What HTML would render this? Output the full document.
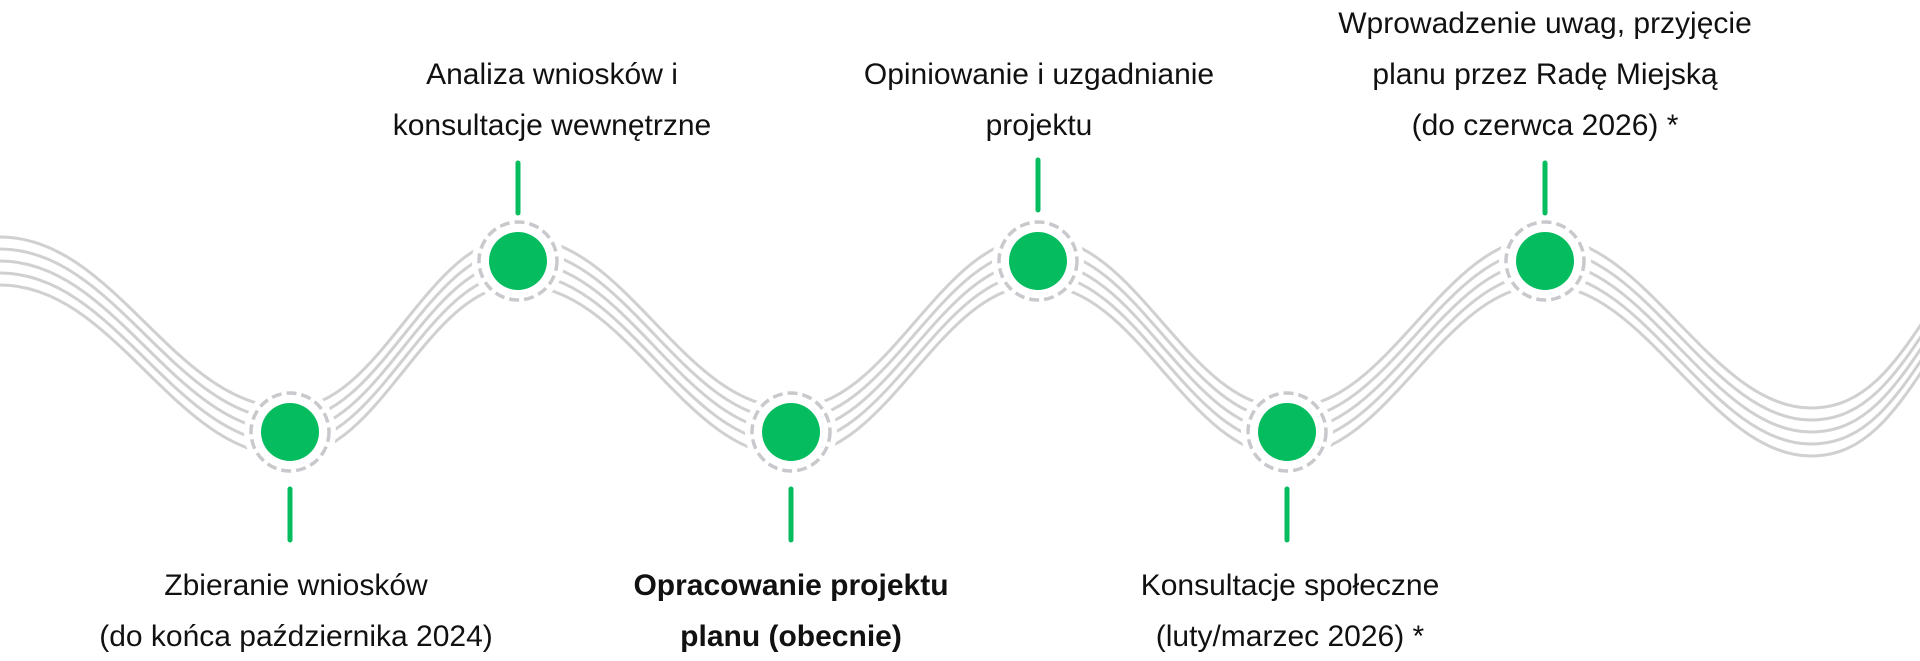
<!DOCTYPE html>
<html><head><meta charset="utf-8"><style>
html,body{margin:0;padding:0;background:#fff;}
body{width:1920px;height:661px;overflow:hidden;position:relative;}
svg{position:absolute;left:0;top:0;}
text{font-family:"Liberation Sans",sans-serif;font-size:30px;fill:#111;}
</style></head><body>
<svg width="1920" height="661" viewBox="0 0 1920 661">
<defs>
<path id="w" d="M-20,261 L0,261 C116,261 174,432 290,432 C381,432 427,261 518,261 C627,261 682,432 791,432 C890,432 939,261 1038,261 C1138,261 1187,432 1287,432 C1390,432 1442,261 1545,261 C1645,261 1711,432 1811,432 C1870,432 1900,380 1940,320" fill="none" stroke="#d0d0d0" stroke-width="3"/>
</defs>
<use href="#w" y="-24"/><use href="#w" y="-12"/><use href="#w"/><use href="#w" y="12"/><use href="#w" y="24"/>
<g>
<g transform="translate(290,432)"><circle r="46" fill="#fff"/><circle r="39" fill="none" stroke="#c9c9cd" stroke-width="3.5" stroke-dasharray="10 5"/><circle r="29" fill="#05bd5f"/></g>
<g transform="translate(518,261)"><circle r="46" fill="#fff"/><circle r="39" fill="none" stroke="#c9c9cd" stroke-width="3.5" stroke-dasharray="10 5"/><circle r="29" fill="#05bd5f"/></g>
<g transform="translate(791,432)"><circle r="46" fill="#fff"/><circle r="39" fill="none" stroke="#c9c9cd" stroke-width="3.5" stroke-dasharray="10 5"/><circle r="29" fill="#05bd5f"/></g>
<g transform="translate(1038,261)"><circle r="46" fill="#fff"/><circle r="39" fill="none" stroke="#c9c9cd" stroke-width="3.5" stroke-dasharray="10 5"/><circle r="29" fill="#05bd5f"/></g>
<g transform="translate(1287,432)"><circle r="46" fill="#fff"/><circle r="39" fill="none" stroke="#c9c9cd" stroke-width="3.5" stroke-dasharray="10 5"/><circle r="29" fill="#05bd5f"/></g>
<g transform="translate(1545,261)"><circle r="46" fill="#fff"/><circle r="39" fill="none" stroke="#c9c9cd" stroke-width="3.5" stroke-dasharray="10 5"/><circle r="29" fill="#05bd5f"/></g>
</g>
<g stroke="#05bd5f" stroke-width="5" stroke-linecap="round">
<line x1="290" y1="489" x2="290" y2="540"/>
<line x1="791" y1="489" x2="791" y2="540"/>
<line x1="1287" y1="489" x2="1287" y2="540"/>
<line x1="518" y1="163" x2="518" y2="213"/>
<line x1="1038" y1="160" x2="1038" y2="210"/>
<line x1="1545" y1="163" x2="1545" y2="213"/>
</g>
<g text-anchor="middle">
<text x="552" y="84">Analiza wniosków i</text>
<text x="552" y="135">konsultacje wewnętrzne</text>
<text x="1039" y="84">Opiniowanie i uzgadnianie</text>
<text x="1039" y="135">projektu</text>
<text x="1545" y="33">Wprowadzenie uwag, przyjęcie</text>
<text x="1545" y="84">planu przez Radę Miejską</text>
<text x="1545" y="135">(do czerwca 2026) *</text>
<text x="296" y="595">Zbieranie wniosków</text>
<text x="296" y="646">(do końca października 2024)</text>
<text x="791" y="595" font-weight="bold">Opracowanie projektu</text>
<text x="791" y="646" font-weight="bold">planu (obecnie)</text>
<text x="1290" y="595">Konsultacje społeczne</text>
<text x="1290" y="646">(luty/marzec 2026) *</text>
</g>
</svg>
</body></html>
